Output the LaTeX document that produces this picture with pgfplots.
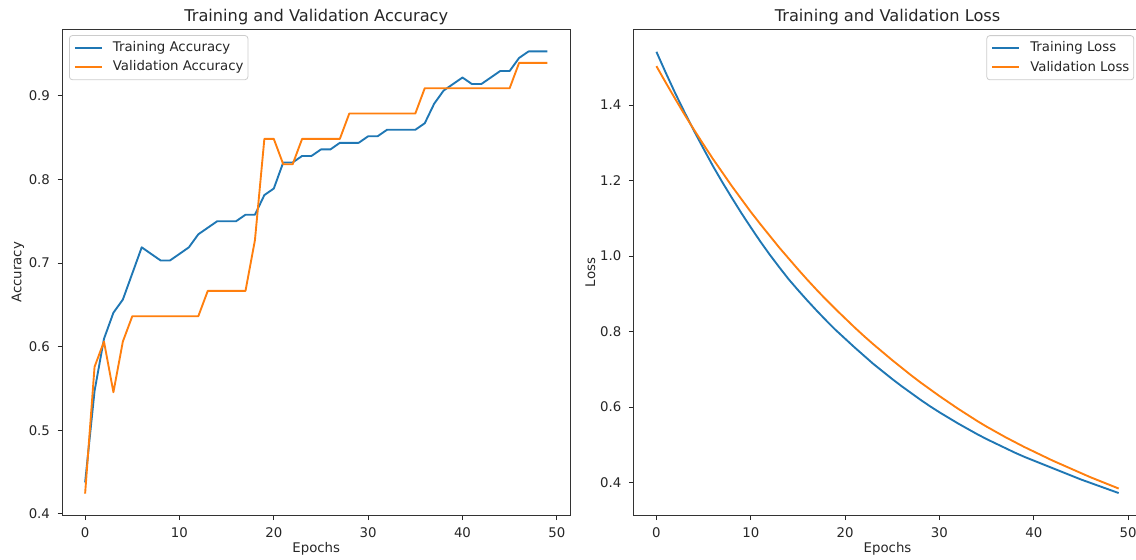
\documentclass[border=0pt]{standalone}
\usepackage{fontspec}
\setmainfont{DejaVu Sans}
\usepackage{pgfplots}
\pgfplotsset{compat=1.18}
\definecolor{c0}{HTML}{1F77B4}
\definecolor{c1}{HTML}{FF7F0E}
\newcommand{\smallf}{\fontsize{6.65}{8}\selectfont}
\pgfplotsset{
  every axis title shift=0pt,
  mpl/.style={
    scale only axis, width=254.25pt, height=243.2pt,
    xmin=-2.45, xmax=51.45, xtick={0,10,20,30,40,50},
    xtick pos=left, ytick pos=left,
    tick align=outside, major tick length=2.2pt,
    tick style={black!85, line width=0.5pt},
    axis line style={black!80, line width=0.5pt},
    /pgf/number format/assume math mode=true,
    tick label style={font=\smallf, text=black!85},
    yticklabel style={xshift=-0.3pt, /pgf/number format/.cd, fixed, fixed zerofill, precision=1},
    scaled y ticks=false,
    label style={font=\smallf, text=black!85},
    xlabel style={at={(axis description cs:0.5,-0.0678)}, anchor=center},
    title style={font=\fontsize{8.1}{9.5}\selectfont, text=black!85, at={(axis description cs:0.5,1.017)}, anchor=base},
    legend style={font=\smallf, text=black!85, draw=black!20, rounded corners=1.5pt, fill=white,
      inner xsep=2.2pt, inner ysep=3pt, row sep=3.3pt,
      nodes={inner sep=0pt, text height=5pt, text depth=1.4pt}},
    legend cell align=left,
    legend image code/.code={\draw[#1] (0pt,0pt) -- (13.5pt,0pt); \path (18.6pt,0pt);},
  },
  lw/.style={line width=0.94pt, line join=round},
}
\pgfplotstableread{
x ta va tl vl
0 0.4375 0.4242 1.541 1.503
1 0.5469 0.5758 1.485 1.459
2 0.6094 0.6061 1.431 1.416
3 0.6406 0.5455 1.380 1.374
4 0.6563 0.6061 1.331 1.334
5 0.6875 0.6364 1.284 1.295
6 0.7188 0.6364 1.238 1.257
7 0.7109 0.6364 1.195 1.221
8 0.7031 0.6364 1.154 1.185
9 0.7031 0.6364 1.114 1.151
10 0.7109 0.6364 1.076 1.117
11 0.7188 0.6364 1.039 1.085
12 0.7344 0.6364 1.004 1.054
13 0.7422 0.6667 0.971 1.023
14 0.7500 0.6667 0.939 0.994
15 0.7500 0.6667 0.910 0.965
16 0.7500 0.6667 0.882 0.937
17 0.7578 0.6667 0.855 0.910
18 0.7578 0.7273 0.829 0.884
19 0.7813 0.8485 0.804 0.859
20 0.7891 0.8485 0.781 0.835
21 0.8203 0.8182 0.758 0.811
22 0.8203 0.8182 0.736 0.788
23 0.8281 0.8485 0.714 0.766
24 0.8281 0.8485 0.694 0.745
25 0.8359 0.8485 0.674 0.724
26 0.8359 0.8485 0.655 0.704
27 0.8438 0.8485 0.637 0.684
28 0.8438 0.8788 0.619 0.665
29 0.8438 0.8788 0.602 0.647
30 0.8516 0.8788 0.586 0.629
31 0.8516 0.8788 0.571 0.612
32 0.8594 0.8788 0.556 0.595
33 0.8594 0.8788 0.542 0.579
34 0.8594 0.8788 0.528 0.563
35 0.8594 0.8788 0.515 0.548
36 0.8672 0.9091 0.503 0.534
37 0.8906 0.9091 0.491 0.520
38 0.9063 0.9091 0.479 0.507
39 0.9141 0.9091 0.468 0.494
40 0.9219 0.9091 0.458 0.482
41 0.9141 0.9091 0.448 0.470
42 0.9141 0.9091 0.438 0.458
43 0.9219 0.9091 0.428 0.447
44 0.9297 0.9091 0.418 0.436
45 0.9297 0.9091 0.408 0.425
46 0.9453 0.9394 0.399 0.414
47 0.9531 0.9394 0.390 0.404
48 0.9531 0.9394 0.381 0.394
49 0.9531 0.9394 0.372 0.384
}\hist
\begin{document}
\begin{tikzpicture}
\begin{axis}[mpl, at={(31pt,22.15pt)}, anchor=south west,
  ymin=0.3978, ymax=0.9796, ytick={0.4,0.5,0.6,0.7,0.8,0.9},
  title={Training and Validation Accuracy},
  xlabel={Epochs}, ylabel={Accuracy},
  ylabel style={at={(axis description cs:-0.0865,0.5)}, anchor=center},
  legend style={at={(axis description cs:0.0138,0.988)}, anchor=north west}]
\addplot[c0, lw] table[x=x, y=ta] {\hist};
\addlegendentry{Training Accuracy}
\addplot[c1, lw] table[x=x, y=va] {\hist};
\addlegendentry{Validation Accuracy}
\end{axis}
\begin{axis}[mpl, at={(316.65pt,22.1pt)}, anchor=south west,
  ymin=0.3118, ymax=1.6004, ytick={0.4,0.6,0.8,1.0,1.2,1.4},
  title={Training and Validation Loss},
  xlabel={Epochs}, ylabel={Loss},
  ylabel style={at={(axis description cs:-0.0846,0.5)}, anchor=center},
  legend style={at={(axis description cs:0.985,0.988)}, anchor=north east}]
\addplot[c0, lw] table[x=x, y=tl] {\hist};
\addlegendentry{Training Loss}
\addplot[c1, lw] table[x=x, y=vl] {\hist};
\addlegendentry{Validation Loss}
\end{axis}
\pgfresetboundingbox
\path[use as bounding box] (0pt,0pt) rectangle (568pt,280pt);
\end{tikzpicture}
\end{document}
